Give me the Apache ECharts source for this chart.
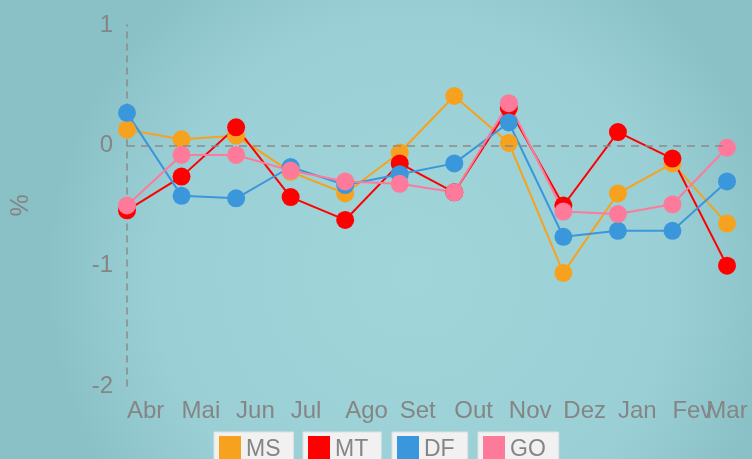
<!DOCTYPE html>
<html>
<head>
<meta charset="utf-8">
<script src="https://cdn.jsdelivr.net/npm/echarts@6/dist/echarts.min.js"></script>
<style>
html,body{margin:0;padding:0;}
#chart{width:752px;height:459px;}
</style>
</head>
<body>
<div id="chart"></div>
<script>
var meses = ['Abr','Mai','Jun','Jul','Ago','Set','Out','Nov','Dez','Jan','Fev','Mar'];
var ms = [0.13, 0.05, 0.08, -0.22, -0.40, -0.06, 0.41, 0.02, -1.06, -0.40, -0.15, -0.65];
var mt = [-0.54, -0.26, 0.15, -0.43, -0.62, -0.15, -0.39, 0.31, -0.50, 0.11, -0.11, -1.00];
var df = [0.27, -0.42, -0.44, -0.18, -0.33, -0.24, -0.15, 0.19, -0.76, -0.71, -0.71, -0.30];
var go = [-0.50, -0.08, -0.08, -0.21, -0.30, -0.32, -0.39, 0.35, -0.55, -0.57, -0.49, -0.02];
var nomes = ['MS','MT','DF','GO'];
var cores = ['#f7a21e','#ff0000','#3a97dc','#fe7a9b'];

var chart = echarts.init(document.getElementById('chart'));
var cinza = '#858585';
var fonte = 'Liberation Sans';

function serie(nome, dados, cor) {
	return {
		name: nome,
		type: 'line',
		data: dados,
		symbol: 'circle',
		symbolSize: 18,
		lineStyle: {width: 2, color: cor},
		itemStyle: {color: cor},
		z: 3
	};
}

//uma legenda por item, cada uma com a sua caixa
var legendas = [];
var lefts = [214, 303, 392, 478];
for (var i = 0; i < nomes.length; i++) {
	legendas.push({
		data: [nomes[i]],
		left: lefts[i],
		top: 432,
		backgroundColor: '#f1f1f1',
		borderColor: '#e0e0e0',
		borderWidth: 1,
		padding: [4, 13, 4, 5],
		itemWidth: 22,
		itemHeight: 28,
		itemGap: 0,
		icon: 'rect',
		textStyle: {color: cinza, fontSize: 23, fontFamily: fonte},
		selectedMode: false
	});
}

var series = [];
series.push(serie('MS', ms, cores[0]));
series.push(serie('MT', mt, cores[1]));
series.push(serie('DF', df, cores[2]));
series.push(serie('GO', go, cores[3]));
series[0].markLine = {
	silent: true,
	symbol: 'none',
	label: {show: false},
	lineStyle: {color: '#8a8a8a', type: [8, 6], width: 1.5},
	data: [{yAxis: 0}]
};

var option = {
	backgroundColor: {
		type: 'radial', x: 0.55, y: 0.6, r: 0.8,
		colorStops: [
			{offset: 0, color: '#a0d5da'},
			{offset: 0.7, color: '#9ad0d5'},
			{offset: 1, color: '#8ac1c7'}
		]
	},
	animation: false,
	legend: legendas,
	grid: {left: 127, right: 25, top: 25, bottom: 73},
	xAxis: {
		type: 'category',
		data: meses,
		boundaryGap: false,
		axisLine: {show: false},
		axisTick: {show: false},
		axisLabel: {
			color: cinza, fontSize: 24, fontFamily: fonte, margin: 13, interval: 0,
			align: 'left', alignMaxLabel: 'center'
		}
	},
	yAxis: {
		type: 'value',
		min: -2,
		max: 1,
		interval: 1,
		name: '%',
		nameLocation: 'middle',
		nameGap: 93,
		nameRotate: 90,
		nameTextStyle: {color: cinza, fontSize: 25, fontFamily: fonte},
		axisLine: {show: true, lineStyle: {color: '#8a8a8a', type: [6, 6], width: 1.5}},
		axisTick: {show: false},
		splitLine: {show: false},
		axisLabel: {color: cinza, fontSize: 24, fontFamily: fonte, margin: 14}
	},
	series: series
};
chart.setOption(option);
</script>
</body>
</html>
